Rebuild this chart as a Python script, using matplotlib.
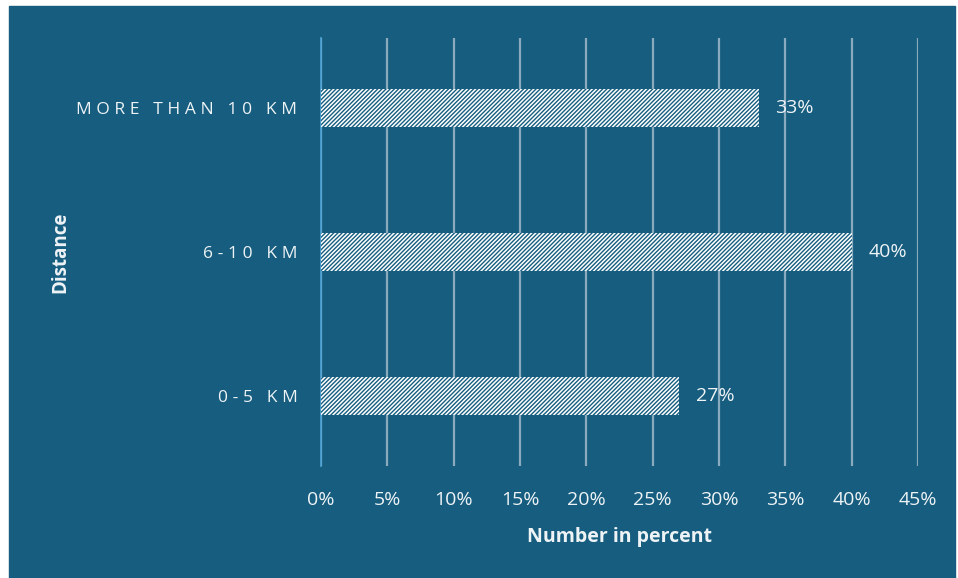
import matplotlib
matplotlib.use("Agg")
import matplotlib.pyplot as plt
from matplotlib.patches import Rectangle

categories = ["0-5 KM", "6-10 KM", "MORE THAN 10 KM"]
shares = [27, 40, 33]
ticks = [0, 5, 10, 15, 20, 25, 30, 35, 40, 45]

bg = "#165D7F"
txt = "#EEF3F6"

plt.rcParams["font.family"] = ["Open Sans", "DejaVu Sans"]
plt.rcParams["hatch.linewidth"] = 1.0

fig = plt.figure(figsize=(9.58, 5.78), dpi=100)
fig.patch.set_facecolor("white")
fig.patches.append(Rectangle((9 / 958, 0), 946 / 958, 572 / 578,
                             transform=fig.transFigure, color=bg, zorder=-10))

ax = fig.add_axes([321 / 958, 1 - 466 / 578, 597 / 958, 428 / 578])
ax.set_facecolor("none")

y = list(range(len(categories)))
ax.barh(y, shares, height=0.265, color="white", edgecolor=bg,
        linewidth=0, hatch="/" * 8, zorder=3)

for yi, v in zip(y, shares):
    ax.annotate(f"{v}%", (v, yi), xytext=(12, 0), textcoords="offset points",
                ha="left", va="center", color=txt, fontsize=14, zorder=4)

ax.set_xlim(0, 45)
ax.set_ylim(-0.486, 2.486)
ax.set_xticks(ticks)
ax.set_xticklabels([f"{t}%" for t in ticks])
ax.set_yticks(y)
# spaced-out capitals for the category labels
ax.set_yticklabels(["\u2009\u200a".join(c) for c in categories])

ax.grid(axis="x", color="#8AAABD", linewidth=1.6, zorder=1)
ax.grid(axis="y", visible=False)
for s in ["top", "right", "bottom"]:
    ax.spines[s].set_visible(False)
ax.spines["left"].set_color("#4FA6D8")
ax.spines["left"].set_linewidth(1.2)
ax.spines["left"].set_zorder(2)

ax.tick_params(axis="x", length=0, pad=18, labelsize=14, labelcolor=txt)
ax.tick_params(axis="y", length=0, pad=17, labelsize=12.5, labelcolor=txt)

ax.set_xlabel("Number in percent", fontsize=14, fontweight="bold",
              color=txt, labelpad=13)
ax.set_ylabel("Distance", fontsize=13.5, fontweight="bold", color=txt)
ax.yaxis.set_label_coords(-0.42, 0.5)

fig.savefig("out.png", dpi=100, facecolor=fig.get_facecolor())
